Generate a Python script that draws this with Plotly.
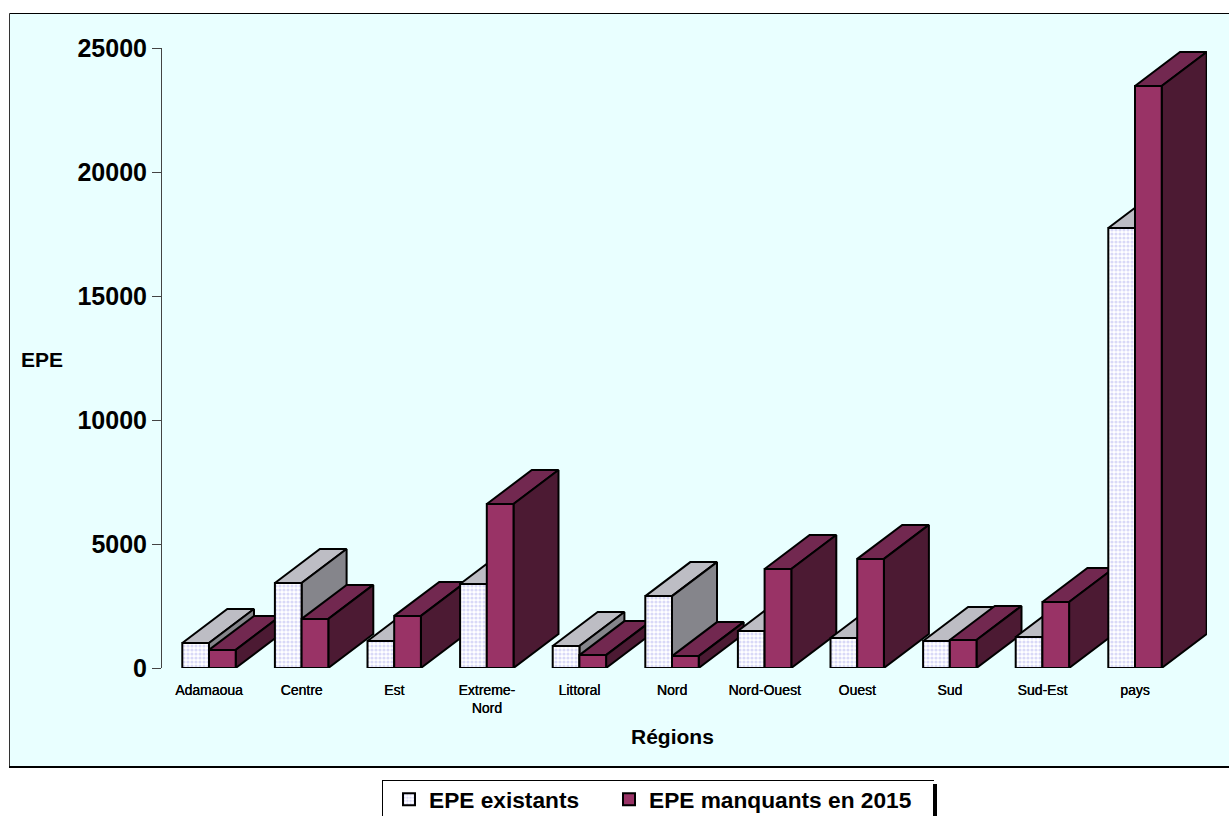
import plotly.graph_objects as go

regions = ["Adamaoua", "Centre", "Est", "Extreme-<br>Nord", "Littoral", "Nord",
           "Nord-Ouest", "Ouest", "Sud", "Sud-Est", "pays"]
existants = [1010, 3430, 1090, 3390, 890, 2900, 1490, 1210, 1090, 1250, 17740]
manquants = [730, 1980, 2100, 6610, 520, 480, 3990, 4400, 1130, 2660, 23470]
y_ticks = [0, 5000, 10000, 15000, 20000, 25000]

W, H = 1229, 850  # taller than the 816 window: the legend frame runs off the bottom edge
L, R, T, B = 162, 1207, 48, 668
STEP = 92.6
BAR = 26.7 / STEP
DX = 45 / STEP
DY = 34 / (620 / 25000)
FONT = "Liberation Sans, Arial, sans-serif"


def px(x):
    return x / W


def py(y):
    return 1 - y / H


WHITE = dict(front="#FFFFFF", top="#BDBDC4", side="#85858B",
             pattern=dict(shape=".", fgcolor="#B4B4F0", bgcolor="#FFFFFF", size=4, solidity=0.5))
RED = dict(front="#993366", top="#722850", side="#4C1A33", pattern=None)

fig = go.Figure()


def face(xs, ys, color, pattern=None):
    fig.add_trace(go.Scatter(
        x=xs, y=ys, mode="lines", fill="toself", fillcolor=color,
        fillpattern=pattern, line=dict(color="black", width=2, shape="linear"),
        showlegend=False, hoverinfo="skip", cliponaxis=False))


def block(x0, v, st):
    x1 = x0 + BAR
    face([x0, x1, x1 + DX, x0 + DX, x0], [v, v, v + DY, v + DY, v], st["top"])
    face([x1, x1 + DX, x1 + DX, x1, x1], [0, DY, v + DY, v, 0], st["side"])
    face([x0, x1, x1, x0, x0], [0, 0, v, v, 0], st["front"], st["pattern"])


for i, (a, b) in enumerate(zip(existants, manquants)):
    block(i - BAR, a, WHITE)
    block(i, b, RED)

fig.add_trace(go.Bar(x=[None], y=[None], name="EPE existants", legend="legend",
                     marker=dict(color="#FFFFFF", pattern=WHITE["pattern"],
                                 line=dict(color="black", width=2))))
fig.add_trace(go.Bar(x=[None], y=[None], name="EPE manquants en 2015", legend="legend2",
                     marker=dict(color="#993366", line=dict(color="black", width=2))))

panel = [
    dict(type="rect", xref="paper", yref="paper", layer="below",
         x0=px(10), x1=px(W), y0=py(767), y1=py(14),
         fillcolor="#E9FFFF", line=dict(width=0)),
    dict(type="line", xref="paper", yref="paper", layer="below",
         x0=px(9.5), x1=px(W), y0=py(13.5), y1=py(13.5), line=dict(color="black", width=1)),
    dict(type="line", xref="paper", yref="paper", layer="below",
         x0=px(9.5), x1=px(9.5), y0=py(13.5), y1=py(767), line=dict(color="#333333", width=1)),
    dict(type="line", xref="paper", yref="paper", layer="below",
         x0=px(9), x1=px(W), y0=py(767), y1=py(767), line=dict(color="black", width=2)),
    # legend frame
    dict(type="line", xref="paper", yref="paper", layer="below",
         x0=px(382), x1=px(934), y0=py(780.5), y1=py(780.5), line=dict(color="black", width=1)),
    dict(type="line", xref="paper", yref="paper", layer="below",
         x0=px(382.5), x1=px(382.5), y0=py(780.5), y1=py(830), line=dict(color="black", width=1)),
    dict(type="line", xref="paper", yref="paper", layer="below",
         x0=px(935), x1=px(935), y0=py(784), y1=py(830), line=dict(color="black", width=4)),
]

notes = [
    dict(text="<b>Régions</b>", xref="paper", yref="paper", x=px(672), y=py(736),
         xanchor="center", yanchor="middle",
         showarrow=False, font=dict(family=FONT, size=21, color="black")),
    dict(text="<b>EPE</b>", xref="paper", yref="paper", x=px(42), y=py(359),
         xanchor="center", yanchor="middle",
         showarrow=False, font=dict(family=FONT, size=21, color="black")),
]

legend_font = dict(family=FONT, size=22.7, color="black", weight="bold")
legend_common = dict(orientation="h", xref="paper", yref="paper",
                     xanchor="left", yanchor="top", bgcolor="rgba(0,0,0,0)",
                     font=legend_font, itemclick=False, itemdoubleclick=False)

fig.update_layout(
    width=W, height=H, autosize=False,
    margin=dict(l=0, r=0, t=0, b=0, pad=0),
    paper_bgcolor="white", plot_bgcolor="rgba(0,0,0,0)",
    shapes=panel, annotations=notes,
    showlegend=True,
    legend=dict(x=px(389), y=py(778), **legend_common),
    legend2=dict(x=px(609), y=py(778), **legend_common),
    xaxis=dict(domain=[L / W, R / W],
               range=[(L - 209) / STEP, (R - 209) / STEP], tickmode="array",
               tickvals=list(range(len(regions))), ticktext=regions,
               showgrid=False, zeroline=False, showline=False, ticks="",
               tickfont=dict(family=FONT, size=14, color="black", shadow="0.3px 0 0 black"),
               ticklabelstandoff=12, automargin=False),
    yaxis=dict(domain=[1 - B / H, 1 - T / H],
               range=[0, 25000], tickmode="array", tickvals=y_ticks, tickformat="d",
               showgrid=False, zeroline=False, showline=True, linecolor="#444444", linewidth=1,
               ticks="outside", ticklen=9, tickcolor="#444444", tickwidth=1,
               tickfont=dict(family=FONT, size=25, color="black", weight="bold"),
               ticklabelstandoff=0, automargin=False),
)

fig.write_html("out.html", config={"displayModeBar": False},
               post_script="document.body.style.margin='0';document.documentElement.style.overflow='hidden';document.body.style.overflow='hidden';")
